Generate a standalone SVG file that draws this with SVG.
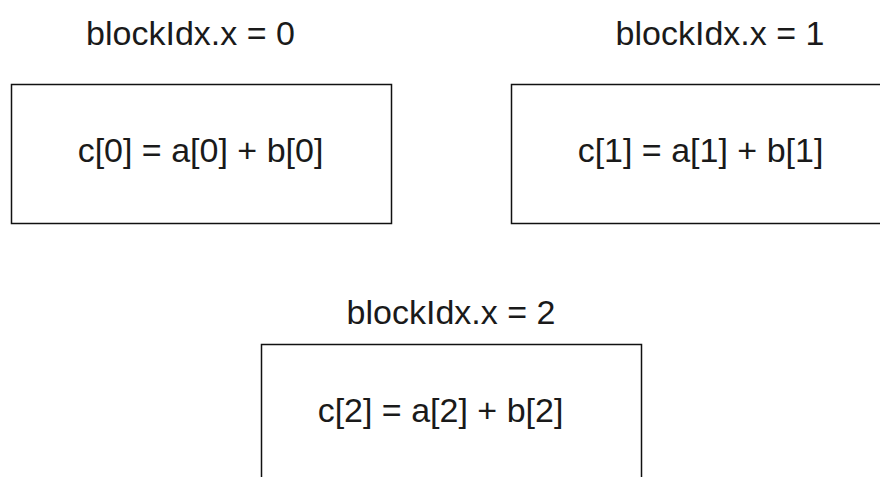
<svg xmlns="http://www.w3.org/2000/svg" width="880" height="477" viewBox="0 0 880 477">
<style>
.box{fill:#fff;stroke:#111;stroke-width:1.5}
.t{font-family:"Liberation Sans",Arial,sans-serif;font-size:34px;fill:#1a1a1a;text-anchor:middle}
</style>
<rect width="880" height="477" fill="#fff"/>
<g id="block0">
<text class="t" x="190.5" y="45">blockIdx.x = 0</text>
<rect class="box" x="11.5" y="84.5" width="380" height="139"/>
<text class="t" x="200.5" y="162">c[0] = a[0] + b[0]</text>
</g>
<g id="block1">
<text class="t" x="720" y="45">blockIdx.x = 1</text>
<rect class="box" x="511.5" y="84.5" width="380" height="139"/>
<text class="t" x="700.5" y="162">c[1] = a[1] + b[1]</text>
</g>
<g id="block2">
<text class="t" x="451" y="324">blockIdx.x = 2</text>
<rect class="box" x="261.5" y="344.5" width="380" height="139"/>
<text class="t" x="440.5" y="422">c[2] = a[2] + b[2]</text>
</g>
<g id="connectors"></g>
</svg>
